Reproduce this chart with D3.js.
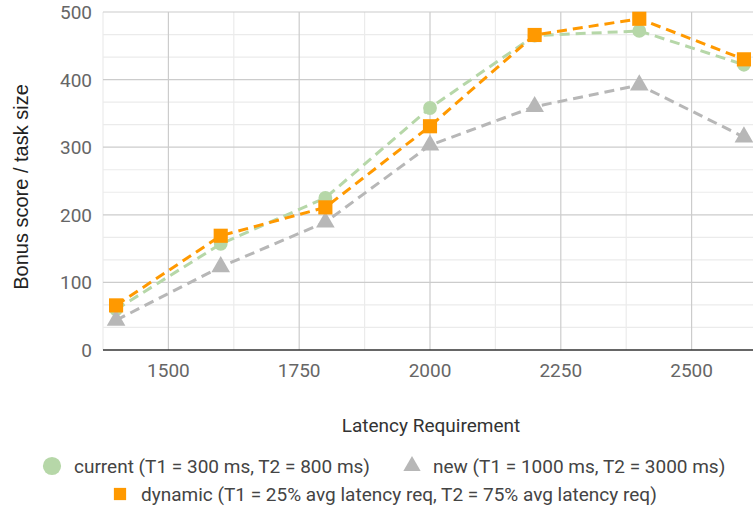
<!DOCTYPE html>
<html>
<head>
<meta charset="utf-8">
<script src="https://cdn.jsdelivr.net/npm/d3@7"></script>
<style>
  body { margin: 0; background: #fff; }
  svg { font-family: Roboto, "Noto Sans", sans-serif; }
</style>
</head>
<body>
<svg id="chart" width="753" height="514"></svg>
<script>
'use strict';

const latency = [1400, 1600, 1800, 2000, 2200, 2400, 2600];
const current = [60, 157, 225, 358, 465, 472, 422];
const newer = [44, 123, 189, 303, 360, 392, 315];
const dynamic = [66, 169, 211, 331, 466, 490, 430];

const xTicks = [1500, 1750, 2000, 2250, 2500];
const yTicks = [0, 100, 200, 300, 400, 500];

const series = [
  { name: 'current (T1 = 300 ms, T2 = 800 ms)', values: current, color: '#b6d7a8', shape: d3.symbolCircle },
  { name: 'new (T1 = 1000 ms, T2 = 3000 ms)', values: newer, color: '#b7b7b7', shape: d3.symbolTriangle },
  { name: 'dynamic (T1 = 25% avg latency req, T2 = 75% avg latency req)', values: dynamic, color: '#ff9900', shape: d3.symbolSquare }
];

const svg = d3.select('#chart');
const plotL = 103, plotR = 757, plotT = 12, plotB = 350;

const x = d3.scaleLinear().domain([1375, 2625]).range([plotL, plotR]);
const y = d3.scaleLinear().domain([0, 500]).range([plotB, plotT]);

// minor grid
const yMinor = d3.range(0, 500, 100 / 3).filter(v => v % 100 > 1);
svg.append('g').selectAll('line').data(yMinor).enter().append('line')
  .attr('x1', plotL).attr('x2', plotR)
  .attr('y1', d => y(d)).attr('y2', d => y(d))
  .attr('stroke', '#ebebeb').attr('stroke-width', 1.2);
const xMinor = [1375, 1625, 1875, 2125, 2375, 2625];
svg.append('g').selectAll('line').data(xMinor).enter().append('line')
  .attr('x1', d => x(d)).attr('x2', d => x(d))
  .attr('y1', plotT).attr('y2', plotB)
  .attr('stroke', '#ebebeb').attr('stroke-width', 1.2);

// major grid
svg.append('g').selectAll('line').data(yTicks.slice(1)).enter().append('line')
  .attr('x1', plotL).attr('x2', plotR)
  .attr('y1', d => y(d)).attr('y2', d => y(d))
  .attr('stroke', '#cccccc').attr('stroke-width', 1.2);
svg.append('g').selectAll('line').data(xTicks).enter().append('line')
  .attr('x1', d => x(d)).attr('x2', d => x(d))
  .attr('y1', plotT).attr('y2', plotB)
  .attr('stroke', '#cccccc').attr('stroke-width', 1.2);

// baseline
svg.append('line')
  .attr('x1', plotL).attr('x2', plotR)
  .attr('y1', y(0)).attr('y2', y(0))
  .attr('stroke', '#333').attr('stroke-width', 1.5);

// tick labels
svg.append('g').selectAll('text').data(yTicks).enter().append('text')
  .attr('x', 92).attr('y', d => y(d) + 7)
  .attr('text-anchor', 'end')
  .attr('font-size', 19).attr('fill', '#666')
  .text(d => d);
svg.append('g').selectAll('text').data(xTicks).enter().append('text')
  .attr('x', d => x(d)).attr('y', 377)
  .attr('text-anchor', 'middle')
  .attr('font-size', 19).attr('fill', '#666')
  .text(d => d);

// axis titles
svg.append('text')
  .attr('transform', 'translate(28,187) rotate(-90)')
  .attr('text-anchor', 'middle')
  .attr('font-family', '"Liberation Sans", Arial, sans-serif')
  .attr('font-size', 20).attr('fill', '#222')
  .text('Bonus score / task size');
svg.append('text')
  .attr('x', 431).attr('y', 432)
  .attr('text-anchor', 'middle')
  .attr('font-size', 19).attr('fill', '#333')
  .text('Latency Requirement');

// lines and markers
const line = d3.line().x((d, i) => x(latency[i])).y(d => y(d));
const sizes = { 0: 150, 1: 150, 2: 200 };
series.forEach((s, k) => {
  svg.append('path')
    .datum(s.values)
    .attr('d', line)
    .attr('fill', 'none')
    .attr('stroke', s.color)
    .attr('stroke-width', 3)
    .attr('stroke-dasharray', '10,6');
});
series.forEach((s, k) => {
  svg.append('g').selectAll('path').data(s.values).enter().append('path')
    .attr('d', d3.symbol().type(s.shape).size(sizes[k]))
    .attr('transform', (d, i) => `translate(${x(latency[i])},${y(d)})`)
    .attr('fill', s.color);
});

// legend
const legend = [
  { s: series[0], mx: 52, tx: 74, ty: 466, size: 260 },
  { s: series[1], mx: 412, tx: 433, ty: 466, size: 130 },
  { s: series[2], mx: 120, tx: 141, ty: 494, size: 150 }
];
legend.forEach(l => {
  svg.append('path')
    .attr('d', d3.symbol().type(l.s.shape).size(l.size))
    .attr('transform', `translate(${l.mx},${l.ty})`)
    .attr('fill', l.s.color);
  svg.append('text')
    .attr('x', l.tx).attr('y', l.ty + 7)
    .attr('font-size', 19).attr('fill', '#444')
    .text(l.s.name);
});
</script>
</body>
</html>
